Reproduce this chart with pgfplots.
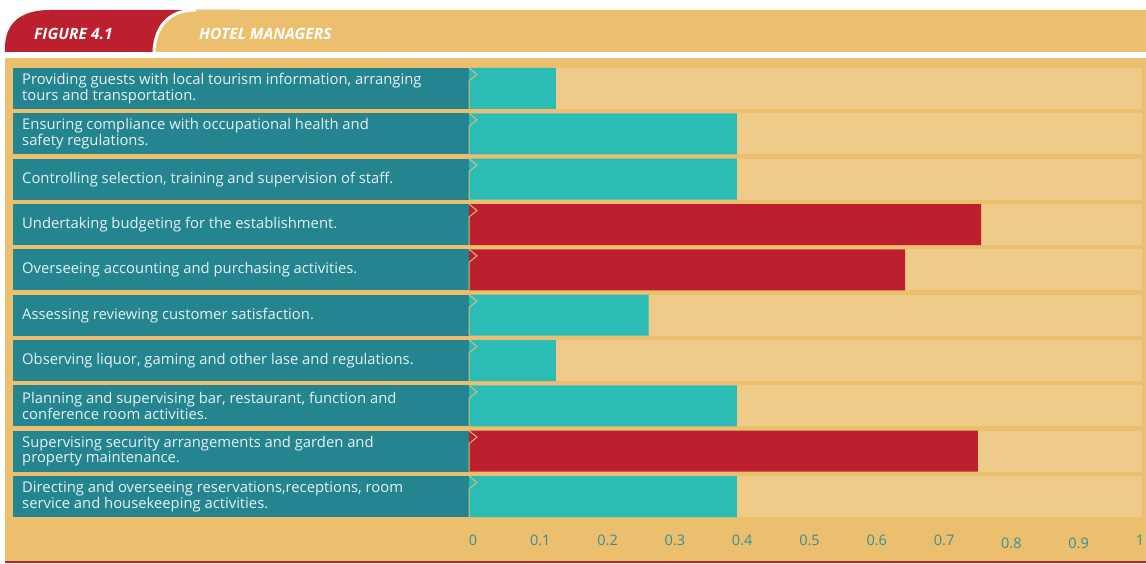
\documentclass[border=0pt]{standalone}
\usepackage{fontspec}
\setmainfont{Open Sans}
\newfontfamily\tickfont{Open Sans}
\usepackage{pgfplots}
\pgfplotsset{compat=1.18}
\definecolor{bodyor}{HTML}{ECBF6F}
\definecolor{track}{HTML}{EECB88}
\definecolor{darkteal}{HTML}{24848F}
\definecolor{brightteal}{HTML}{2BBDB5}
\definecolor{barred}{HTML}{BC1F2D}
\definecolor{tickc}{HTML}{3A8D95}
\definecolor{chev}{HTML}{D9BA7A}
\definecolor{labtext}{HTML}{E8F3F3}
\tikzset{px/.style={x=1pt,y=-1pt,shift={(-5pt,527pt)}}}
\newcommand\lab[2]{\node[anchor=west, inner sep=0pt, align=left, text=labtext, font=\fontsize{14.8}{15.5}\selectfont] at (22,{68+45.3333*#1+20.5}) {#2};}
\begin{document}
\begin{tikzpicture}
\useasboundingbox (-5pt,-36pt) rectangle (1141pt,527pt);
\begin{scope}[px]
\fill[white] (0,0) rectangle (1146,563);
% header
\fill[barred] (5,52) -- (5,48) .. controls (5,22) and (22,10) .. (50,10) -- (240,10) -- (240,52) -- cycle;
\fill[bodyor] (154,52) -- (154,50) .. controls (156,25) and (170,10) .. (196,10) -- (1146,10) -- (1146,52) -- cycle;
\draw[white, line width=3pt] (154,53) -- (154,50) .. controls (156,25) and (170,10) .. (196,10);
\fill[white] (0,52) rectangle (1146,58);
\node[anchor=base west, inner sep=0pt, text=white, font=\fontsize{15.6}{18}\selectfont\bfseries\itshape] at (34,40) {FIGURE 4.1};
\node[anchor=base west, inner sep=0pt, text=white, font=\fontsize{15.6}{18}\selectfont\bfseries\itshape] at (199,40) {HOTEL MANAGERS};
% body
\fill[bodyor] (5,58) rectangle (1146,561);
\fill[barred] (5,561) rectangle (1146,563);
\foreach \i in {0,...,9}{
  \pgfmathsetmacro\T{68+45.3333*\i}
  \fill[darkteal] (13,\T) rectangle (469,\T+41);
  \fill[track] (469,\T) rectangle (1142,\T+41);
}
\lab{0}{Providing guests with local tourism information, arranging\\tours and transportation.}
\lab{1}{Ensuring compliance with occupational health and\\safety regulations.}
\lab{2}{Controlling selection, training and supervision of staff.}
\lab{3}{Undertaking budgeting for the establishment.}
\lab{4}{Overseeing accounting and purchasing activities.}
\lab{5}{Assessing reviewing customer satisfaction.}
\lab{6}{Observing liquor, gaming and other lase and regulations.}
\lab{7}{Planning and supervising bar, restaurant, function and\\conference room activities.}
\lab{8}{Supervising security arrangements and garden and\\property maintenance.}
\lab{9}{Directing and overseeing reservations,receptions, room\\service and housekeeping activities.}
\end{scope}
\begin{axis}[
  x=673pt, y=45.3333pt, y dir=reverse,
  xmin=-0.68945, xmax=1.005944,
  ymin=-0.6728, ymax=9.6728,
  axis line style={draw=none},
  tick style={draw=none},
  major tick length=0pt,
  ytick=\empty,
  xtick={0,0.1,0.2,0.3,0.4,0.5,0.6,0.7,0.8,0.9},
  xticklabels={0,0.1,0.2,0.3,0.4,0.5,0.6,0.7,\raisebox{-3pt}{0.8},\raisebox{-3pt}{0.9}},
  extra x ticks={1},
  extra x tick labels={1},
  extra x tick style={xticklabel style={xshift=-6pt}},
  xticklabel style={font=\tickfont\fontsize{14.5}{17}\selectfont, text=tickc, anchor=base, yshift=-18pt, xshift=4pt},
  clip=false,
]
\addplot[xbar, bar width=41pt, bar shift=0pt, fill=brightteal, draw=none]
  coordinates {(0.129,0) (0.398,1) (0.398,2) (0.267,5) (0.129,6) (0.398,7) (0.398,9)};
\addplot[xbar, bar width=41pt, bar shift=0pt, fill=barred, draw=none]
  coordinates {(0.761,3) (0.648,4) (0.756,8)};
\end{axis}
\begin{scope}[px]
\foreach \i in {0,...,9}{
  \pgfmathsetmacro\T{68+45.3333*\i}
  \draw[chev, line width=1pt] (469,\T) -- (477,\T+6.5) -- (469,\T+13) -- (469,\T+41);
}
\end{scope}
\end{tikzpicture}
\end{document}
